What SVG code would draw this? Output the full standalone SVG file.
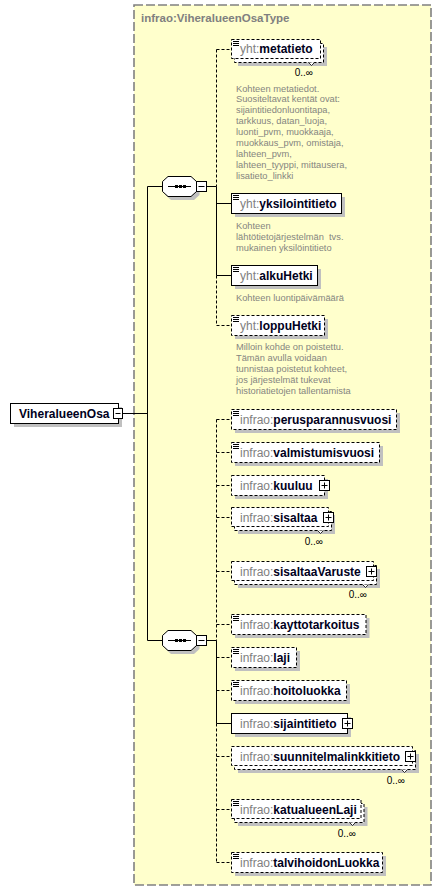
<svg xmlns="http://www.w3.org/2000/svg" width="442" height="894" viewBox="0 0 442 894">
<style>
.bg{fill:#ffffff}
.type{fill:#ffffcc;stroke:#808080;stroke-width:1.6;stroke-dasharray:9 3}
.ttl{font:bold 11.5px "Liberation Sans",Arial,sans-serif;fill:#808080}
.box{fill:#ffffff;stroke:#000;stroke-width:1}
.dbox{fill:#ffffff;stroke:#000;stroke-width:1;stroke-dasharray:3 2}
.sh{fill:#c0c0c0}
.nm{font:12px "Liberation Sans",Arial,sans-serif;fill:#000020}
.pf{fill:#808080;font-weight:normal}
.b{font-weight:bold}
.doc{font:9.3px "Liberation Sans",Arial,sans-serif;fill:#858580}
.occ{font:10px "Liberation Sans",Arial,sans-serif;fill:#000}
.ln{stroke:#000;stroke-width:1;fill:none}
.dl{stroke:#000;stroke-width:1;fill:none;stroke-dasharray:3 2}
.ic{stroke:#000;stroke-width:1;fill:none}
.pm{fill:#fff;stroke:#000;stroke-width:1}
.nt{stroke:#000;stroke-width:0.8;fill:#fff}
</style>
<rect class="bg" x="0" y="0" width="442" height="894"/>

<g id="type">
<rect class="type" x="134" y="5" width="297" height="880"/>
<text class="ttl" x="141" y="22">infrao:ViheralueenOsaType</text>
</g>

<g id="connectors">
<path class="ln" d="M123,413.5H147.5M147.5,186.5V640.5M147.5,186.5H163M147.5,640.5H163"/>
<path class="ln" d="M206.5,186.5H216.5M206.5,640.5H216.5"/>
<path class="dl" d="M216.5,49.5V186.5M216.5,275.5V325.5M216.5,49.5H231.5M216.5,325.5H231.5"/>
<path class="ln" d="M216.5,186.5V275.5M216.5,203.5H231.5M216.5,275.5H231.5"/>
<path class="dl" d="M216.5,419.5V640.5M216.5,723.5V862.5"/>
<path class="ln" d="M216.5,640.5V723.5M216.5,723.5H231.5"/>
<path class="dl" d="M216.5,419.5H231.5M216.5,452.5H231.5M216.5,485.5H231.5M216.5,517.5H231.5M216.5,571.5H231.5M216.5,624.5H231.5M216.5,657.5H231.5M216.5,690.5H231.5M216.5,756.5H231.5M216.5,809.5H231.5M216.5,862.5H231.5"/>
</g>

<g id="root">
<rect class="sh" x="14" y="407" width="108" height="20"/>
<rect class="box" x="10.5" y="403.5" width="108" height="20"/>
<text class="nm b" x="19" y="418">ViheralueenOsa</text>
<rect class="pm" x="113.5" y="408.5" width="9" height="10"/>
<path class="ln" d="M115.5,413.5H120.5"/>
</g>

<g id="seq1">
<path class="sh" d="M171,180H194L199.5,185V195L194,200H171L165.5,195V185Z"/>
<path class="box" d="M168,176.5H191L196.5,181.5V191.5L191,196.5H168L162.5,191.5V181.5Z"/>
<path class="ln" d="M168,186.5H191"/>
<rect x="175" y="185" width="3" height="3" fill="#000"/><rect x="179" y="185" width="3" height="3" fill="#000"/><rect x="183" y="185" width="3" height="3" fill="#000"/>
<rect class="pm" x="196.5" y="181.5" width="10" height="10"/>
<path class="ln" d="M198.5,186.5H204.5"/>
</g>

<g id="seq2">
<path class="sh" d="M171,634H194L199.5,639V649L194,654H171L165.5,649V639Z"/>
<path class="box" d="M168,630.5H191L196.5,635.5V645.5L191,650.5H168L162.5,645.5V635.5Z"/>
<path class="ln" d="M168,640.5H191"/>
<rect x="175" y="639" width="3" height="3" fill="#000"/><rect x="179" y="639" width="3" height="3" fill="#000"/><rect x="183" y="639" width="3" height="3" fill="#000"/>
<rect class="pm" x="196.5" y="635.5" width="10" height="10"/>
<path class="ln" d="M198.5,640.5H204.5"/>
</g>

<g id="metatieto">
<rect class="sh" x="238" y="47" width="89" height="19"/>
<rect class="dbox" x="234.5" y="43.5" width="89" height="19"/>
<rect class="dbox" x="231.5" y="39.5" width="89" height="19"/>
<path class="nt" d="M308.5,62.5L311.5,65.5L314.5,62.5"/>
<path class="ic" d="M233,41.5h6M233,43.5h6M233,45.5h6"/>
<text class="nm" x="240" y="53"><tspan class="pf">yht:</tspan><tspan class="b">metatieto</tspan></text>
<text class="occ" x="313" y="76" text-anchor="end">0..∞</text>
<text class="doc" x="236"><tspan x="236" y="91.5">Kohteen metatiedot.</tspan><tspan x="236" y="102.4">Suositeltavat kentät ovat:</tspan><tspan x="236" y="113.3">sijaintitiedonluontitapa,</tspan><tspan x="236" y="124.2">tarkkuus, datan_luoja,</tspan><tspan x="236" y="135.1">luonti_pvm, muokkaaja,</tspan><tspan x="236" y="146">muokkaus_pvm, omistaja,</tspan><tspan x="236" y="156.9">lahteen_pvm,</tspan><tspan x="236" y="167.8">lahteen_tyyppi, mittausera,</tspan><tspan x="236" y="178.7">lisatieto_linkki</tspan></text>
</g>

<g id="yksilointitieto">
<rect class="sh" x="235" y="197" width="110" height="20"/>
<rect class="box" x="231.5" y="193.5" width="110" height="20"/>
<path class="ic" d="M233,195.5h6M233,197.5h6M233,199.5h6"/>
<text class="nm" x="240" y="207.5"><tspan class="pf">yht:</tspan><tspan class="b">yksilointitieto</tspan></text>
<text class="doc" style="white-space:pre"><tspan x="236" y="228.5">Kohteen</tspan><tspan x="236" y="239.6">lähtötietojärjestelmän  tvs.</tspan><tspan x="236" y="250.7">mukainen yksilöintitieto</tspan></text>
</g>

<g id="alkuHetki">
<rect class="sh" x="235" y="269" width="86" height="20"/>
<rect class="box" x="231.5" y="265.5" width="86" height="20"/>
<path class="ic" d="M233,267.5h6M233,269.5h6M233,271.5h6"/>
<text class="nm" x="240" y="279.5"><tspan class="pf">yht:</tspan><tspan class="b">alkuHetki</tspan></text>
<text class="doc" x="236" y="300.5">Kohteen luontipäivämäärä</text>
</g>

<g id="loppuHetki">
<rect class="sh" x="235" y="319" width="93" height="20"/>
<rect class="dbox" x="231.5" y="315.5" width="93" height="20"/>
<path class="ic" d="M233,317.5h6M233,319.5h6M233,321.5h6"/>
<text class="nm" x="240" y="329.5"><tspan class="pf">yht:</tspan><tspan class="b">loppuHetki</tspan></text>
<text class="doc"><tspan x="236" y="350">Milloin kohde on poistettu.</tspan><tspan x="236" y="360.9">Tämän avulla voidaan</tspan><tspan x="236" y="371.8">tunnistaa poistetut kohteet,</tspan><tspan x="236" y="382.7">jos järjestelmät tukevat</tspan><tspan x="236" y="393.6">historiatietojen tallentamista</tspan></text>
</g>

<g id="perusparannusvuosi">
<rect class="sh" x="235" y="413" width="165" height="20"/>
<rect class="dbox" x="231.5" y="409.5" width="165" height="20"/>
<path class="ic" d="M233,411.5h6M233,413.5h6M233,415.5h6"/>
<text class="nm" x="240" y="423.5"><tspan class="pf">infrao:</tspan><tspan class="b">perusparannusvuosi</tspan></text>
</g>

<g id="valmistumisvuosi">
<rect class="sh" x="235" y="446" width="148" height="20"/>
<rect class="dbox" x="231.5" y="442.5" width="148" height="20"/>
<path class="ic" d="M233,444.5h6M233,446.5h6M233,448.5h6"/>
<text class="nm" x="240" y="456.5"><tspan class="pf">infrao:</tspan><tspan class="b">valmistumisvuosi</tspan></text>
</g>

<g id="kuuluu">
<rect class="sh" x="235" y="479" width="93" height="20"/>
<rect class="dbox" x="231.5" y="475.5" width="93" height="20"/>
<text class="nm" x="240" y="489.5"><tspan class="pf">infrao:</tspan><tspan class="b">kuuluu</tspan></text>
<rect class="pm" x="319.5" y="480.5" width="10" height="10"/>
<path class="ln" d="M321.5,485.5H327.5M324.5,482.5V488.5"/>
</g>

<g id="sisaltaa">
<rect class="sh" x="238" y="515" width="97" height="19"/>
<rect class="dbox" x="234.5" y="511.5" width="97" height="19"/>
<rect class="dbox" x="231.5" y="507.5" width="97" height="19"/>
<path class="nt" d="M317.5,530.5L320.5,533.5L323.5,530.5"/>
<text class="nm" x="240" y="521.5"><tspan class="pf">infrao:</tspan><tspan class="b">sisaltaa</tspan></text>
<rect class="pm" x="323.5" y="512.5" width="10" height="10"/>
<path class="ln" d="M325.5,517.5H331.5M328.5,514.5V520.5"/>
<text class="occ" x="323" y="545" text-anchor="end">0..∞</text>
</g>

<g id="sisaltaaVaruste">
<rect class="sh" x="238" y="569" width="142" height="19"/>
<rect class="dbox" x="234.5" y="565.5" width="142" height="19"/>
<rect class="dbox" x="231.5" y="561.5" width="142" height="19"/>
<path class="nt" d="M362.5,584.5L365.5,587.5L368.5,584.5"/>
<text class="nm" x="240" y="575.5"><tspan class="pf">infrao:</tspan><tspan class="b">sisaltaaVaruste</tspan></text>
<rect class="pm" x="366.5" y="566.5" width="10" height="10"/>
<path class="ln" d="M368.5,571.5H374.5M371.5,568.5V574.5"/>
<text class="occ" x="367" y="598" text-anchor="end">0..∞</text>
</g>

<g id="kayttotarkoitus">
<rect class="sh" x="235" y="618" width="134.5" height="20"/>
<rect class="dbox" x="231.5" y="614.5" width="134.5" height="20"/>
<path class="ic" d="M233,616.5h6M233,618.5h6M233,620.5h6"/>
<text class="nm" x="240" y="628.5"><tspan class="pf">infrao:</tspan><tspan class="b">kayttotarkoitus</tspan></text>
</g>

<g id="laji">
<rect class="sh" x="235" y="651" width="65" height="20"/>
<rect class="dbox" x="231.5" y="647.5" width="65" height="20"/>
<path class="ic" d="M233,649.5h6M233,651.5h6M233,653.5h6"/>
<text class="nm" x="240" y="661.5"><tspan class="pf">infrao:</tspan><tspan class="b">laji</tspan></text>
</g>

<g id="hoitoluokka">
<rect class="sh" x="235" y="684" width="115" height="20"/>
<rect class="dbox" x="231.5" y="680.5" width="115" height="20"/>
<path class="ic" d="M233,682.5h6M233,684.5h6M233,686.5h6"/>
<text class="nm" x="240" y="694.5"><tspan class="pf">infrao:</tspan><tspan class="b">hoitoluokka</tspan></text>
</g>

<g id="sijaintitieto">
<rect class="sh" x="235" y="717" width="116" height="20"/>
<rect class="box" x="231.5" y="713.5" width="116" height="20"/>
<text class="nm" x="240" y="727.5"><tspan class="pf">infrao:</tspan><tspan class="b">sijaintitieto</tspan></text>
<rect class="pm" x="342.5" y="718.5" width="10" height="10"/>
<path class="ln" d="M344.5,723.5H350.5M347.5,720.5V726.5"/>
</g>

<g id="suunnitelmalinkkitieto">
<rect class="sh" x="238" y="754" width="181" height="19"/>
<rect class="dbox" x="234.5" y="750.5" width="181" height="19"/>
<rect class="dbox" x="231.5" y="746.5" width="181" height="19"/>
<path class="nt" d="M401.5,769.5L404.5,772.5L407.5,769.5"/>
<text class="nm" x="240" y="760.5"><tspan class="pf">infrao:</tspan><tspan class="b">suunnitelmalinkkitieto</tspan></text>
<rect class="pm" x="405.5" y="751.5" width="10" height="10"/>
<path class="ln" d="M407.5,756.5H413.5M410.5,753.5V759.5"/>
<text class="occ" x="405" y="784" text-anchor="end">0..∞</text>
</g>

<g id="katualueenLaji">
<rect class="sh" x="238" y="807" width="129.5" height="19"/>
<rect class="dbox" x="234.5" y="803.5" width="129.5" height="19"/>
<rect class="dbox" x="231.5" y="799.5" width="129.5" height="19"/>
<path class="nt" d="M349.5,822.5L352.5,825.5L355.5,822.5"/>
<path class="ic" d="M233,801.5h6M233,803.5h6M233,805.5h6"/>
<text class="nm" x="240" y="813.5"><tspan class="pf">infrao:</tspan><tspan class="b">katualueenLaji</tspan></text>
<text class="occ" x="356" y="837" text-anchor="end">0..∞</text>
</g>

<g id="talvihoidonLuokka">
<rect class="sh" x="235" y="856" width="151" height="20"/>
<rect class="dbox" x="231.5" y="852.5" width="151" height="20"/>
<path class="ic" d="M233,854.5h6M233,856.5h6M233,858.5h6"/>
<text class="nm" x="240" y="866.5"><tspan class="pf">infrao:</tspan><tspan class="b">talvihoidonLuokka</tspan></text>
</g>
</svg>
